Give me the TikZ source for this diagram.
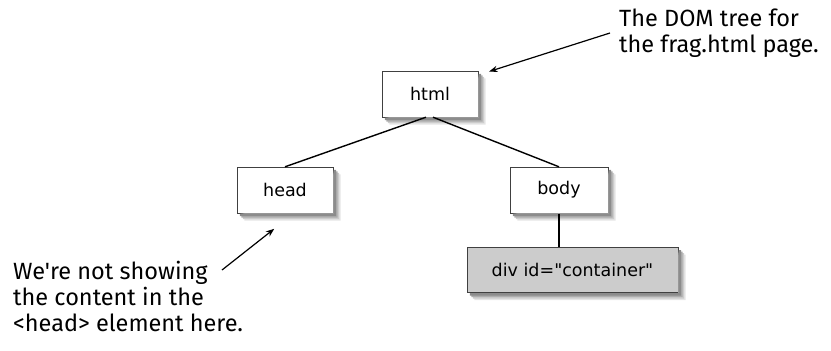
\documentclass[tikz,border=0pt]{standalone}
\usepackage{fontspec}
\usepackage{tikz}
\usetikzlibrary{arrows.meta,positioning}
\newfontfamily\boxfont{DejaVu Sans}
\newfontfamily\notefont{Fira Sans}

\begin{document}
\begin{tikzpicture}[x=1pt, y=-1pt, >=Stealth,
  treebox/.style={draw=black!75, fill=white, minimum width=96pt, minimum height=46pt,
    inner sep=0pt, font=\boxfont\fontsize{17.5}{20}\selectfont},
  note/.style={align=left, inner sep=0pt, font=\notefont\fontsize{23.5}{26}\selectfont},
  link/.style={-, line width=1.4pt},
  pointer/.style={->, line width=1.2pt, shorten >=1pt}]
  \useasboundingbox (0,0) rectangle (831,351);

  % the tree
  \node[treebox] (html) at (430,94) {html};
  \node[treebox] (head) at (285,190) {head};
  \node[treebox, minimum width=98pt] (body) at (559,190) {body};
  \node[treebox, fill=black!20, minimum width=211pt, minimum height=45pt] (div)
    [below=34pt of body.south west, anchor=north west, xshift=-43pt] {div id="container"};

  % soft shadow strips along the right and lower edges
  \foreach \n in {html,head,body,div}
    \foreach \d/\tone in {7.5/10,6/20,4.5/32,3/45}
      \fill[black!\tone] ([xshift=0.5pt, yshift=-\d pt]\n.north east)
        -- ([xshift=\d pt, yshift=-\d pt]\n.north east)
        -- ([xshift=\d pt, yshift=-\d pt]\n.south east)
        -- ([xshift=\d pt, yshift=-\d pt]\n.south west)
        -- ([xshift=\d pt, yshift=-0.5pt]\n.south west)
        -- ([xshift=0.5pt, yshift=-0.5pt]\n.south east) -- cycle;

  \draw[link] ([xshift=-4pt]html.south) -- (head.north);
  \draw[link] ([xshift=3pt]html.south) -- (body.north);
  \draw[link] ([yshift=-0.5pt]body.south) -- (body.south |- div.north);

  % notes
  \node[note, anchor=north west] (domnote) at (619,9) {The DOM tree for\\the frag.html page.};
  \node[note, anchor=north west] (headnote) at (13,261) {We're not showing\\the content in the\\<head> element here.};

  \coordinate (domtip) at ([xshift=10pt, yshift=-1pt]html.north east);
  \coordinate (headtip) at ([xshift=-10pt, yshift=-15pt]head.south);
  \draw[pointer] ([xshift=-9pt, yshift=-24pt]domnote.north west) -- (domtip);
  \draw[pointer] ([xshift=209pt, yshift=-9pt]headnote.north west) -- (headtip);
\end{tikzpicture}
\end{document}
